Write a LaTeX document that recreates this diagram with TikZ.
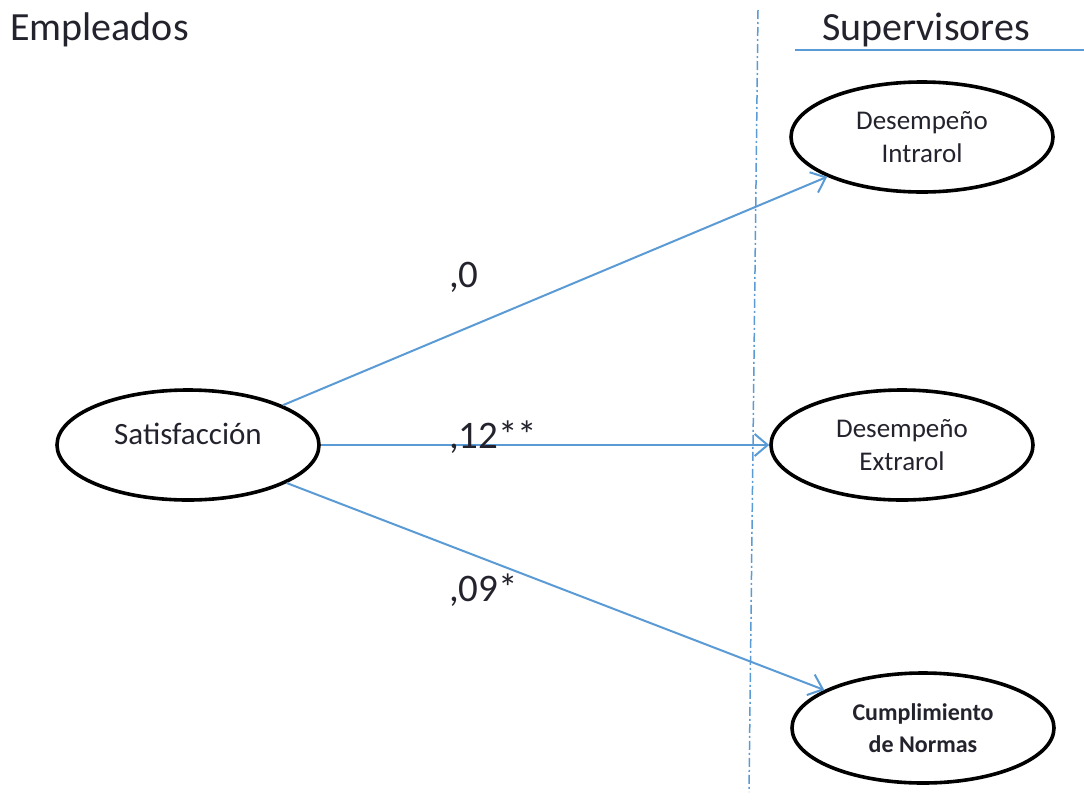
\documentclass[tikz,border=0pt]{standalone}
\usepackage{fontspec}
\setmainfont{Carlito}
\usetikzlibrary{shapes.geometric,arrows.meta}
\definecolor{lineblue}{RGB}{91,155,213}
\definecolor{txt}{RGB}{35,35,45}
\begin{document}
\begin{tikzpicture}[x=1pt,y=-1pt,
  oval/.style={ellipse,draw=black,line width=3.6pt,minimum width=262pt,minimum height=110pt,inner sep=0pt,align=center,text=txt,font=\fontsize{27}{33}\selectfont},
  link/.style={draw=lineblue,line width=2pt,-{Straight Barb[length=13pt,width=22pt,line width=2pt]}},
  title/.style={anchor=base west,inner sep=0pt,text=txt,font=\fontsize{40}{48}\selectfont},
  coef/.style={anchor=base west,inner sep=0pt,text=txt,font=\fontsize{39}{46}\selectfont}
  ]
\useasboundingbox (0,0) rectangle (1084,801);
\fill[white] (0,0) rectangle (1084,801);

% headings
\node[title] (emp) at (10,40) {Empleados};
\node[title] (sup) at (822,40) {Supervisores};
\coordinate (ulA) at (795,50);
\coordinate (ulB) at (1084,50);
\draw[lineblue,line width=1.5pt] (ulA) -- (ulB);

% divider
\coordinate (divT) at (758,10);
\coordinate (divB) at (749,792);
\draw[lineblue,line width=1.5pt,dash pattern=on 9pt off 3pt on 2pt off 3pt] (divT) -- (divB);

% nodes
\node[oval,font=\fontsize{31}{37}\selectfont] (sat) at (188,445) {\raisebox{0pt}[\height][\dimexpr\depth+22pt\relax]{Satisfacción}};
\node[oval] (intra) at (922,137) {Desempeño\\Intrarol};
\node[oval] (extra) at (902,445) {Desempeño\\Extrarol};
\node[oval,font=\bfseries\fontsize{24}{32}\selectfont] (norm) at (923,728) {Cumplimiento\\de Normas};

% connectors
\draw[link] (sat) -- (intra);
\draw[link] (sat) -- (extra);
\draw[link] (sat) -- (norm);

% coefficients
\node[coef] (c1) at (449,287) {,0};
\node[coef] (c2) at (449,448) {,12**};
\node[coef] (c3) at (449,601) {,09*};
\end{tikzpicture}
\end{document}
